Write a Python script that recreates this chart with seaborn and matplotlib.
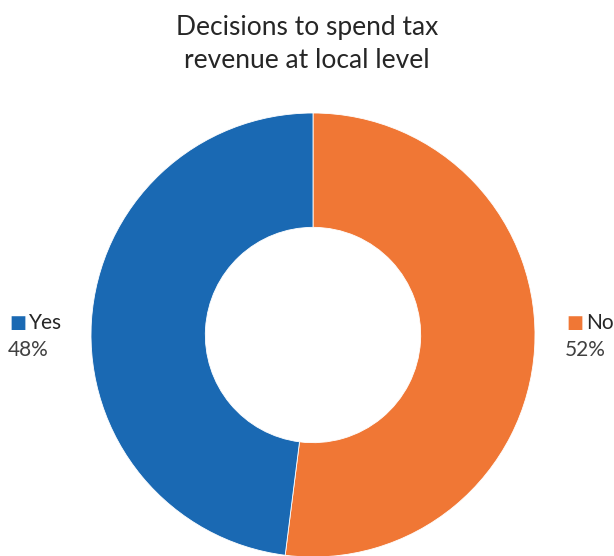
import matplotlib
matplotlib.use("Agg")
import matplotlib.pyplot as plt
import seaborn as sns

# Survey answers
categories = ["No", "Yes"]
shares = [52, 48]
colors = ["#f07735", "#1a69b3"]

sns.set_theme(style="white")
plt.rcParams["font.family"] = ["Lato", "DejaVu Sans"]

W, H = 614, 556
fig = plt.figure(figsize=(W / 100, H / 100), dpi=100)
ax = fig.add_axes([0, 0, 1, 1])

cx, cy, r = 313, H - 335, 222
ax.pie(shares, colors=colors, startangle=90, counterclock=False,
       center=(cx, cy), radius=r,
       wedgeprops=dict(width=r * 0.515, linewidth=0.6, edgecolor="white"))
ax.set_xlim(0, W)
ax.set_ylim(0, H)
ax.set_aspect("equal")
ax.axis("off")

fig.text(0.5, 1 - 27 / H, "Decisions to spend tax", ha="center", va="center",
         fontsize=19, color="#262626")
fig.text(0.5, 1 - 60 / H, "revenue at local level", ha="center", va="center",
         fontsize=19, color="#262626")

# Category labels with colour swatches
label_pos = {"Yes": (9, 323), "No": (566, 323)}
for cat, val, col in zip(categories, shares, colors):
    x, y = label_pos[cat]
    ax.text(x, H - y, "\u25A0", color=col, fontsize=13, va="center", ha="left",
            family=["DejaVu Sans"])
    ax.text(x + 20, H - y, cat, color="#262626", fontsize=15, va="center", ha="left")
    ax.text(x - 1, H - (y + 27), f"{val}%", color="#404040", fontsize=15,
            va="center", ha="left")

fig.savefig("out.png", dpi=100)
